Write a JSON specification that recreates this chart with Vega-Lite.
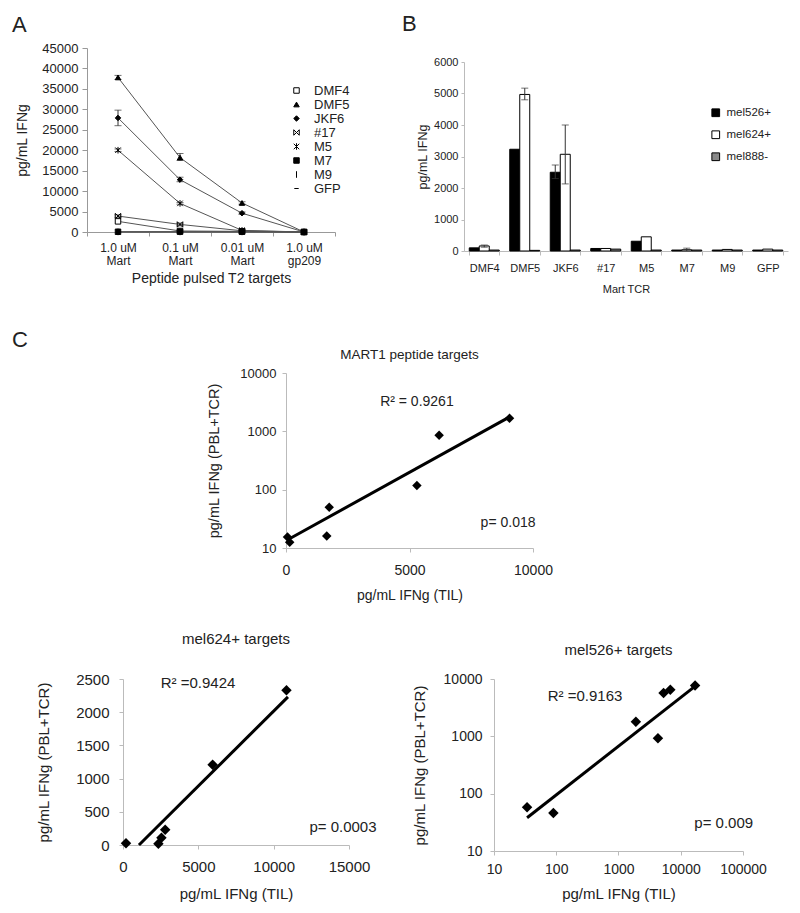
{
  "$schema": "https://vega.github.io/schema/vega-lite/v6.json",
  "background": "white",
  "padding": {"left": 8, "top": 13, "right": 4, "bottom": 4},
  "config": {
    "font": "Liberation Sans",
    "view": {"stroke": null},
    "axis": {"grid": false, "labelOverlap": false, "labelFlush": false, "domainColor": "#aaa", "tickColor": "#aaa", "labelColor": "#222", "titleColor": "#222", "titleFontWeight": "normal", "labelFont": "Liberation Sans", "titleFont": "Liberation Sans"},
    "title": {"fontWeight": "normal", "color": "#222", "font": "Liberation Sans"},
    "legend": {"labelFont": "Liberation Sans", "labelColor": "#222", "padding": 0}
  },
  "datasets": {
    "aData": [
      {"tcr": "DMF4", "conc": "1.0 uM|Mart", "v": 2600},
      {"tcr": "DMF4", "conc": "0.1 uM|Mart", "v": 250},
      {"tcr": "DMF4", "conc": "0.01 uM|Mart", "v": 150},
      {"tcr": "DMF4", "conc": "1.0 uM|gp209", "v": 0},
      {"tcr": "DMF5", "conc": "1.0 uM|Mart", "v": 37800, "lo": 37300, "hi": 38300},
      {"tcr": "DMF5", "conc": "0.1 uM|Mart", "v": 18200, "lo": 17500, "hi": 19200},
      {"tcr": "DMF5", "conc": "0.01 uM|Mart", "v": 7100, "lo": 6800, "hi": 7400},
      {"tcr": "DMF5", "conc": "1.0 uM|gp209", "v": 0},
      {"tcr": "JKF6", "conc": "1.0 uM|Mart", "v": 27900, "lo": 26000, "hi": 29800},
      {"tcr": "JKF6", "conc": "0.1 uM|Mart", "v": 12800, "lo": 12300, "hi": 13400},
      {"tcr": "JKF6", "conc": "0.01 uM|Mart", "v": 4600, "lo": 4300, "hi": 4900},
      {"tcr": "JKF6", "conc": "1.0 uM|gp209", "v": 0},
      {"tcr": "#17", "conc": "1.0 uM|Mart", "v": 3900, "lo": 3600, "hi": 4200},
      {"tcr": "#17", "conc": "0.1 uM|Mart", "v": 1850, "lo": 1500, "hi": 2200},
      {"tcr": "#17", "conc": "0.01 uM|Mart", "v": 300},
      {"tcr": "#17", "conc": "1.0 uM|gp209", "v": 0},
      {"tcr": "M5", "conc": "1.0 uM|Mart", "v": 20000, "lo": 19700, "hi": 20300},
      {"tcr": "M5", "conc": "0.1 uM|Mart", "v": 7000, "lo": 6800, "hi": 7200},
      {"tcr": "M5", "conc": "0.01 uM|Mart", "v": 400},
      {"tcr": "M5", "conc": "1.0 uM|gp209", "v": 0},
      {"tcr": "M7", "conc": "1.0 uM|Mart", "v": 60},
      {"tcr": "M7", "conc": "0.1 uM|Mart", "v": 80},
      {"tcr": "M7", "conc": "0.01 uM|Mart", "v": 80},
      {"tcr": "M7", "conc": "1.0 uM|gp209", "v": 0},
      {"tcr": "M9", "conc": "1.0 uM|Mart", "v": 20},
      {"tcr": "M9", "conc": "0.1 uM|Mart", "v": 20},
      {"tcr": "M9", "conc": "0.01 uM|Mart", "v": 20},
      {"tcr": "M9", "conc": "1.0 uM|gp209", "v": 0},
      {"tcr": "GFP", "conc": "1.0 uM|Mart", "v": 10},
      {"tcr": "GFP", "conc": "0.1 uM|Mart", "v": 10},
      {"tcr": "GFP", "conc": "0.01 uM|Mart", "v": 10},
      {"tcr": "GFP", "conc": "1.0 uM|gp209", "v": 0}
    ],
    "bData": [
      {"tcr": "DMF4", "target": "mel526+", "v": 100},
      {"tcr": "DMF4", "target": "mel624+", "v": 160, "lo": 120, "hi": 190},
      {"tcr": "DMF4", "target": "mel888-", "v": 30},
      {"tcr": "DMF5", "target": "mel526+", "v": 3230},
      {"tcr": "DMF5", "target": "mel624+", "v": 4970, "lo": 4800, "hi": 5170},
      {"tcr": "DMF5", "target": "mel888-", "v": 20},
      {"tcr": "JKF6", "target": "mel526+", "v": 2500, "lo": 2300, "hi": 2730},
      {"tcr": "JKF6", "target": "mel624+", "v": 3070, "lo": 2130, "hi": 4000},
      {"tcr": "JKF6", "target": "mel888-", "v": 30},
      {"tcr": "#17", "target": "mel526+", "v": 80},
      {"tcr": "#17", "target": "mel624+", "v": 80},
      {"tcr": "#17", "target": "mel888-", "v": 60},
      {"tcr": "M5", "target": "mel526+", "v": 310},
      {"tcr": "M5", "target": "mel624+", "v": 450},
      {"tcr": "M5", "target": "mel888-", "v": 30},
      {"tcr": "M7", "target": "mel526+", "v": 30},
      {"tcr": "M7", "target": "mel624+", "v": 40, "lo": 0, "hi": 90},
      {"tcr": "M7", "target": "mel888-", "v": 30},
      {"tcr": "M9", "target": "mel526+", "v": 30},
      {"tcr": "M9", "target": "mel624+", "v": 50},
      {"tcr": "M9", "target": "mel888-", "v": 30},
      {"tcr": "GFP", "target": "mel526+", "v": 30},
      {"tcr": "GFP", "target": "mel624+", "v": 60},
      {"tcr": "GFP", "target": "mel888-", "v": 30}
    ],
    "martPts": [
      {"til": 60, "pbl": 15.5},
      {"til": 150, "pbl": 12.5},
      {"til": 1650, "pbl": 16},
      {"til": 1750, "pbl": 50},
      {"til": 5300, "pbl": 118},
      {"til": 6200, "pbl": 860},
      {"til": 9050, "pbl": 1680}
    ],
    "martFit": [
      {"til": 50, "pbl": 13.7},
      {"til": 9000, "pbl": 1720}
    ],
    "martLab": [
      {"til": 5300, "pbl": 3200, "t": "R² = 0.9261"},
      {"til": 8990, "pbl": 27, "t": "p= 0.018"}
    ],
    "m624Pts": [
      {"til": 200, "pbl": 25},
      {"til": 2350, "pbl": 20},
      {"til": 2550, "pbl": 110},
      {"til": 2800, "pbl": 230},
      {"til": 5950, "pbl": 1210},
      {"til": 10850, "pbl": 2330}
    ],
    "m624Fit": [
      {"til": 1060, "pbl": 0},
      {"til": 10950, "pbl": 2230}
    ],
    "m624Lab": [
      {"til": 4980, "pbl": 2440, "t": "R² =0.9424"},
      {"til": 14600, "pbl": 270, "t": "p= 0.0003"}
    ],
    "m526Pts": [
      {"til": 34, "pbl": 58},
      {"til": 90, "pbl": 46},
      {"til": 1900, "pbl": 1800},
      {"til": 4300, "pbl": 930},
      {"til": 5300, "pbl": 5700},
      {"til": 6800, "pbl": 6500},
      {"til": 17000, "pbl": 7700}
    ],
    "m526Fit": [
      {"til": 34, "pbl": 38},
      {"til": 16500, "pbl": 7300}
    ],
    "m526Lab": [
      {"til": 290, "pbl": 5000, "t": "R² =0.9163"},
      {"til": 49000, "pbl": 31, "t": "p= 0.009"}
    ]
  },
  "resolve": {"scale": {"fill": "independent", "shape": "independent", "stroke": "independent"}, "legend": {"fill": "independent", "shape": "independent", "stroke": "independent"}},
  "spacing": 35,
  "vconcat": [
    {
      "spacing": 3,
      "resolve": {"scale": {"fill": "independent", "shape": "independent", "stroke": "independent"}, "legend": {"fill": "independent", "shape": "independent", "stroke": "independent"}},
      "hconcat": [
        {"width": 1, "height": 1, "data": {"values": []}, "mark": "point"},
        {
          "spacing": 52,
          "resolve": {"scale": {"fill": "independent", "shape": "independent", "stroke": "independent"}, "legend": {"fill": "independent", "shape": "independent", "stroke": "independent"}},
          "hconcat": [
            {
              "width": 248,
              "height": 184,
              "title": {"text": "A", "anchor": "start", "frame": "group", "dx": -75, "fontSize": 22, "offset": 5},
              "data": {"name": "aData"},
              "encoding": {
                "x": {
                  "field": "conc", "type": "nominal",
                  "sort": ["1.0 uM|Mart", "0.1 uM|Mart", "0.01 uM|Mart", "1.0 uM|gp209"],
                  "scale": {"type": "band", "paddingInner": 0, "paddingOuter": 0},
                  "axis": {"title": "Peptide pulsed T2 targets", "labelAngle": 0, "labelExpr": "split(datum.label, '|')", "tickBand": "extent", "tickSize": 4, "labelPadding": 6, "labelFontSize": 12, "labelLineHeight": 13, "titleFontSize": 14, "titlePadding": 5, "domainColor": "#999", "tickColor": "#999"}
                }
              },
              "layer": [
                {
                  "mark": {"type": "line", "color": "#555", "strokeWidth": 1},
                  "encoding": {
                    "y": {"field": "v", "type": "quantitative", "title": "pg/mL IFNg", "scale": {"domain": [0, 45000]},
                      "axis": {"values": [0, 5000, 10000, 15000, 20000, 25000, 30000, 35000, 40000, 45000], "format": "d", "labelOverlap": false, "labelFontSize": 13, "titleFontSize": 14, "tickSize": 5, "labelPadding": 4, "titlePadding": 12, "domainColor": "#999", "tickColor": "#999"}},
                    "detail": {"field": "tcr"}
                  }
                },
                {
                  "transform": [{"filter": "isValid(datum.hi)"}],
                  "mark": {"type": "rule", "color": "#333", "strokeWidth": 1},
                  "encoding": {"y": {"field": "lo", "type": "quantitative", "title": "pg/mL IFNg",
                      "axis": {"values": [0, 5000, 10000, 15000, 20000, 25000, 30000, 35000, 40000, 45000], "format": "d", "labelOverlap": false, "labelFontSize": 13, "titleFontSize": 14, "tickSize": 5, "labelPadding": 4, "titlePadding": 12, "domainColor": "#999", "tickColor": "#999"}},
                    "y2": {"field": "hi"}}
                },
                {
                  "transform": [{"filter": "isValid(datum.hi)"}],
                  "mark": {"type": "tick", "color": "#333", "size": 7, "thickness": 1, "orient": "horizontal"},
                  "encoding": {"y": {"field": "hi", "type": "quantitative", "title": "pg/mL IFNg",
                      "axis": {"values": [0, 5000, 10000, 15000, 20000, 25000, 30000, 35000, 40000, 45000], "format": "d", "labelOverlap": false, "labelFontSize": 13, "titleFontSize": 14, "tickSize": 5, "labelPadding": 4, "titlePadding": 12, "domainColor": "#999", "tickColor": "#999"}}}
                },
                {
                  "transform": [{"filter": "isValid(datum.hi)"}],
                  "mark": {"type": "tick", "color": "#333", "size": 7, "thickness": 1, "orient": "horizontal"},
                  "encoding": {"y": {"field": "lo", "type": "quantitative", "title": "pg/mL IFNg",
                      "axis": {"values": [0, 5000, 10000, 15000, 20000, 25000, 30000, 35000, 40000, 45000], "format": "d", "labelOverlap": false, "labelFontSize": 13, "titleFontSize": 14, "tickSize": 5, "labelPadding": 4, "titlePadding": 12, "domainColor": "#999", "tickColor": "#999"}}}
                },
                {
                  "mark": {"type": "point", "filled": true, "size": 30, "strokeWidth": 1, "opacity": 1},
                  "encoding": {
                    "y": {"field": "v", "type": "quantitative", "title": "pg/mL IFNg",
                      "axis": {"values": [0, 5000, 10000, 15000, 20000, 25000, 30000, 35000, 40000, 45000], "format": "d", "labelOverlap": false, "labelFontSize": 13, "titleFontSize": 14, "tickSize": 5, "labelPadding": 4, "titlePadding": 12, "domainColor": "#999", "tickColor": "#999"}},
                    "shape": {"field": "tcr", "type": "nominal",
                      "scale": {"domain": ["DMF4", "DMF5", "JKF6", "#17", "M5", "M7", "M9", "GFP"],
                        "range": ["square", "triangle-up", "diamond", "M-1,-1L1,1M-1,1L1,-1M-1,-1L-1,1M1,-1L1,1", "M-1,-1L1,1M-1,1L1,-1M0,-1.2L0,1.2", "square", "M0,-1.2L0,1.2", "M-0.8,0L0.8,0"]},
                      "legend": {"title": null, "orient": "none", "legendX": 203, "legendY": 36, "labelFontSize": 13, "labelOffset": 11, "rowPadding": 0, "symbolStrokeWidth": 1, "symbolSize": 30}},
                    "fill": {"field": "tcr", "type": "nominal",
                      "scale": {"domain": ["DMF4", "DMF5", "JKF6", "#17", "M5", "M7", "M9", "GFP"],
                        "range": ["white", "black", "black", "black", "black", "black", "black", "black"]},
                      "legend": {"title": null, "orient": "none", "legendX": 203, "legendY": 36, "labelFontSize": 13, "labelOffset": 11, "rowPadding": 0, "symbolStrokeWidth": 1, "symbolSize": 30}},
                    "stroke": {"field": "tcr", "type": "nominal",
                      "scale": {"domain": ["DMF4", "DMF5", "JKF6", "#17", "M5", "M7", "M9", "GFP"],
                        "range": ["black", "black", "black", "black", "black", "black", "black", "black"]},
                      "legend": {"title": null, "orient": "none", "legendX": 203, "legendY": 36, "labelFontSize": 13, "labelOffset": 11, "rowPadding": 0, "symbolStrokeWidth": 1, "symbolSize": 30}}
                  }
                }
              ]
            },
            {
              "spacing": 7,
              "resolve": {"scale": {"fill": "independent", "shape": "independent", "stroke": "independent"}, "legend": {"fill": "independent", "shape": "independent", "stroke": "independent"}},
              "vconcat": [
                {"width": 1, "height": 1, "data": {"values": []}, "mark": "point",
                  "title": {"text": "B", "anchor": "start", "frame": "group", "dx": -62, "fontSize": 22, "offset": 12}},
                {
                  "width": 324,
                  "height": 189,
                  "data": {"name": "bData"},
                  "encoding": {
                    "x": {
                      "field": "tcr", "type": "nominal",
                      "sort": ["DMF4", "DMF5", "JKF6", "#17", "M5", "M7", "M9", "GFP"],
                      "scale": {"paddingInner": 0.26, "paddingOuter": 0.13},
                      "axis": {"title": "Mart TCR", "labelAngle": 0, "tickBand": "extent", "tickSize": 4, "labelPadding": 7, "labelFontSize": 11, "titleFontSize": 11, "titlePadding": 10, "domainColor": "#bbb", "tickColor": "#bbb"}
                    },
                    "xOffset": {"field": "target", "type": "nominal", "sort": ["mel526+", "mel624+", "mel888-"], "scale": {"paddingInner": 0, "paddingOuter": 0}}
                  },
                  "layer": [
                    {
                      "mark": {"type": "bar", "stroke": "black", "strokeWidth": 1},
                      "encoding": {
                        "y": {"field": "v", "type": "quantitative", "title": "pg/mL IFNg", "scale": {"domain": [0, 6000]},
                          "axis": {"values": [0, 1000, 2000, 3000, 4000, 5000, 6000], "format": "d", "labelOverlap": false, "labelFontSize": 11, "titleFontSize": 12.5, "tickSize": 3, "labelPadding": 3, "titlePadding": 4, "domainColor": "#bbb", "tickColor": "#bbb"}},
                        "fill": {"field": "target", "type": "nominal",
                          "scale": {"domain": ["mel526+", "mel624+", "mel888-"], "range": ["black", "white", "#888888"]},
                          "legend": {"title": null, "orient": "none", "legendX": 246, "legendY": 45, "labelFontSize": 11.5, "labelOffset": 5, "rowPadding": 9, "symbolType": "square", "symbolSize": 60, "symbolStrokeColor": "black", "symbolStrokeWidth": 1}}
                      }
                    },
                    {
                      "transform": [{"filter": "isValid(datum.hi)"}],
                      "mark": {"type": "rule", "color": "#333", "strokeWidth": 1},
                      "encoding": {"y": {"field": "lo", "type": "quantitative", "title": "pg/mL IFNg",
                          "axis": {"values": [0, 1000, 2000, 3000, 4000, 5000, 6000], "format": "d", "labelOverlap": false, "labelFontSize": 11, "titleFontSize": 12.5, "tickSize": 3, "labelPadding": 3, "titlePadding": 4, "domainColor": "#bbb", "tickColor": "#bbb"}},
                        "y2": {"field": "hi"}}
                    },
                    {
                      "transform": [{"filter": "isValid(datum.hi)"}],
                      "mark": {"type": "tick", "color": "#333", "size": 7, "thickness": 1, "orient": "horizontal"},
                      "encoding": {"y": {"field": "hi", "type": "quantitative", "title": "pg/mL IFNg",
                          "axis": {"values": [0, 1000, 2000, 3000, 4000, 5000, 6000], "format": "d", "labelOverlap": false, "labelFontSize": 11, "titleFontSize": 12.5, "tickSize": 3, "labelPadding": 3, "titlePadding": 4, "domainColor": "#bbb", "tickColor": "#bbb"}}}
                    },
                    {
                      "transform": [{"filter": "isValid(datum.hi) && datum.lo > 0"}],
                      "mark": {"type": "tick", "color": "#333", "size": 7, "thickness": 1, "orient": "horizontal"},
                      "encoding": {"y": {"field": "lo", "type": "quantitative", "title": "pg/mL IFNg",
                          "axis": {"values": [0, 1000, 2000, 3000, 4000, 5000, 6000], "format": "d", "labelOverlap": false, "labelFontSize": 11, "titleFontSize": 12.5, "tickSize": 3, "labelPadding": 3, "titlePadding": 4, "domainColor": "#bbb", "tickColor": "#bbb"}}}
                    }
                  ]
                }
              ]
            }
          ]
        }
      ]
    },
    {
      "spacing": 30,
      "vconcat": [
        {
          "spacing": 178,
          "hconcat": [
            {"width": 1, "height": 1, "data": {"values": []}, "mark": "point",
              "title": {"text": "C", "anchor": "start", "frame": "group", "dx": 4, "fontSize": 22, "offset": 21}},
            {
              "width": 247,
              "height": 175,
              "title": {"text": "MART1 peptide targets", "fontSize": 13.5, "offset": 6, "anchor": "middle"},
              "encoding": {
                "x": {"field": "til", "type": "quantitative", "title": "pg/mL IFNg (TIL)", "scale": {"domain": [0, 10000]},
                  "axis": {"values": [0, 5000, 10000], "format": "d", "labelFontSize": 14, "titleFontSize": 14, "tickSize": 4, "labelPadding": 11, "titlePadding": 11, "domainColor": "#bbb", "tickColor": "#bbb"}},
                "y": {"field": "pbl", "type": "quantitative", "title": "pg/mL IFNg (PBL+TCR)", "scale": {"type": "log", "domain": [10, 10000]},
                  "axis": {"values": [10, 100, 1000, 10000], "format": "d", "labelFontSize": 13, "titleFontSize": 14.5, "tickSize": 4, "labelPadding": 6, "titlePadding": 18, "domainColor": "#bbb", "tickColor": "#bbb"}}
              },
              "layer": [
                {"data": {"name": "martFit"}, "mark": {"type": "line", "color": "black", "strokeWidth": 3}},
                {"data": {"name": "martPts"}, "mark": {"type": "point", "shape": "diamond", "filled": true, "color": "black", "size": 90, "opacity": 1}},
                {"data": {"name": "martLab"}, "mark": {"type": "text", "fontSize": 14, "align": "center", "baseline": "middle", "color": "#222"}, "encoding": {"text": {"field": "t"}}}
              ]
            }
          ]
        },
        {
          "spacing": 27,
          "hconcat": [
            {"width": 1, "height": 1, "data": {"values": []}, "mark": "point"},
            {
              "spacing": 35,
              "hconcat": [
                {
                  "width": 226,
                  "height": 166,
                  "title": {"text": "mel624+ targets", "fontSize": 15, "offset": 25, "anchor": "middle"},
                  "encoding": {
                    "x": {"field": "til", "type": "quantitative", "title": "pg/mL IFNg (TIL)", "scale": {"domain": [0, 15000]},
                      "axis": {"values": [0, 5000, 10000, 15000], "format": "d", "labelFontSize": 15, "titleFontSize": 15, "tickSize": 4, "labelPadding": 10, "titlePadding": 12, "domainColor": "#bbb", "tickColor": "#bbb"}},
                    "y": {"field": "pbl", "type": "quantitative", "title": "pg/mL IFNg (PBL+TCR)", "scale": {"domain": [0, 2500]},
                      "axis": {"values": [0, 500, 1000, 1500, 2000, 2500], "format": "d", "labelFontSize": 15, "titleFontSize": 15, "tickSize": 4, "labelPadding": 10, "titlePadding": 24, "domainColor": "#bbb", "tickColor": "#bbb"}}
                  },
                  "layer": [
                    {"data": {"name": "m624Fit"}, "mark": {"type": "line", "color": "black", "strokeWidth": 3}},
                    {"data": {"name": "m624Pts"}, "mark": {"type": "point", "shape": "diamond", "filled": true, "color": "black", "size": 110, "opacity": 1}},
                    {"data": {"name": "m624Lab"}, "mark": {"type": "text", "fontSize": 15, "align": "center", "baseline": "middle", "color": "#222"}, "encoding": {"text": {"field": "t"}}}
                  ]
                },
                {
                  "width": 249,
                  "height": 172,
                  "title": {"text": "mel526+ targets", "fontSize": 15, "offset": 14, "anchor": "middle"},
                  "encoding": {
                    "x": {"field": "til", "type": "quantitative", "title": "pg/mL IFNg (TIL)", "scale": {"type": "log", "domain": [10, 100000]},
                      "axis": {"values": [10, 100, 1000, 10000, 100000], "format": "d", "labelOverlap": false, "labelFlush": false, "labelFontSize": 14, "titleFontSize": 15, "tickSize": 4, "labelPadding": 7, "titlePadding": 10, "domainColor": "#bbb", "tickColor": "#bbb"}},
                    "y": {"field": "pbl", "type": "quantitative", "title": "pg/mL IFNg (PBL+TCR)", "scale": {"type": "log", "domain": [10, 10000]},
                      "axis": {"values": [10, 100, 1000, 10000], "format": "d", "labelOverlap": false, "labelFontSize": 14, "titleFontSize": 15, "tickSize": 4, "labelPadding": 8, "titlePadding": 16, "domainColor": "#bbb", "tickColor": "#bbb"}}
                  },
                  "layer": [
                    {"data": {"name": "m526Fit"}, "mark": {"type": "line", "color": "black", "strokeWidth": 3}},
                    {"data": {"name": "m526Pts"}, "mark": {"type": "point", "shape": "diamond", "filled": true, "color": "black", "size": 110, "opacity": 1}},
                    {"data": {"name": "m526Lab"}, "mark": {"type": "text", "fontSize": 15, "align": "center", "baseline": "middle", "color": "#222"}, "encoding": {"text": {"field": "t"}}}
                  ]
                }
              ]
            }
          ]
        }
      ]
    }
  ]
}
